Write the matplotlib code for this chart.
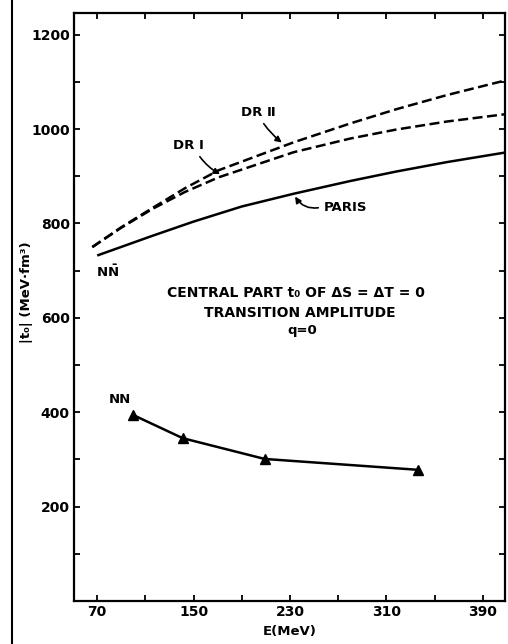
import matplotlib
matplotlib.use("Agg")
import matplotlib.pyplot as plt
from matplotlib.lines import Line2D

plt.rcParams['font.family'] = ['DejaVu Sans']
plt.rcParams['font.weight'] = 'bold'
plt.rcParams['mathtext.fontset'] = 'dejavusans'

# N-Nbar curves (E in MeV, |t0| in MeV fm^3)
e_dr = [66, 90, 116, 143, 171, 233, 280, 318, 360, 410]
dr2 = [750, 792, 833, 875, 913, 972, 1012, 1042, 1072, 1104]
dr1 = [750, 791, 831, 867, 898, 951, 980, 999, 1016, 1032]

e_paris = [71, 116, 150, 190, 233, 280, 318, 360, 410]
paris = [733, 774, 804, 836, 863, 890, 910, 930, 951]

# N-N points
e_nn = [100, 141, 209, 336]
nn = [394, 345, 301, 278]

x_major = [70, 150, 230, 310, 390]
x_minor = [110, 190, 270, 350]
y_major = [200, 400, 600, 800, 1000, 1200]
y_minor = [100, 300, 500, 700, 900, 1100]

fig = plt.figure(figsize=(5.08, 6.44), dpi=100)
ax = fig.add_axes([74/508, 43/644, 431/508, 588/644])

ax.plot(e_dr, dr2, color='black', lw=1.8, dashes=(4, 1.8))
ax.plot(e_dr, dr1, color='black', lw=1.8, dashes=(4, 1.8))
ax.plot(e_paris, paris, color='black', lw=1.8)
ax.plot(e_nn, nn, color='black', lw=1.8, marker='^', ms=7)

ax.set_xlim(50.8, 408.3)
ax.set_ylim(0, 1246)

ax.set_xticks(x_major)
ax.set_xticks(x_minor, minor=True)
ax.set_yticks(y_major)
ax.set_yticks(y_minor, minor=True)
ax.tick_params(which='both', direction='in', top=True, right=True,
               width=1.3, labelsize=10)
ax.tick_params(which='major', length=4.5, pad=3)
ax.tick_params(which='minor', length=4)
for lab in ax.get_xticklabels() + ax.get_yticklabels():
    lab.set_fontweight('bold')
for s in ax.spines.values():
    s.set_linewidth(1.6)

ax.set_xlabel('E(MeV)', fontsize=9.5, fontweight='bold', labelpad=4)
ax.set_ylabel('|t₀| (MeV·fm³)', fontsize=9.5, fontweight='bold')
ax.yaxis.set_label_coords(-0.094, 0.525)

arrow = dict(arrowstyle='-|>', color='black', lw=1.2, mutation_scale=9)
ax.annotate('DR Ⅱ', xy=(225, 968), xytext=(204, 1036), fontsize=9.5,
            fontweight='bold', ha='center', va='center',
            arrowprops=dict(arrow, connectionstyle='arc3,rad=0.1',
                            relpos=(0.55, 0.0)))
ax.annotate('DR Ⅰ', xy=(174, 902), xytext=(146, 966), fontsize=9.5,
            fontweight='bold', ha='center', va='center',
            arrowprops=dict(arrow, connectionstyle='arc3,rad=0.15',
                            relpos=(0.75, 0.0)))
ax.annotate('PARIS', xy=(233, 862), xytext=(258, 833), fontsize=9.5,
            fontweight='bold', ha='left', va='center',
            arrowprops=dict(arrow, connectionstyle='arc3,rad=-0.4',
                            relpos=(0.0, 0.6)))

ax.text(79, 697, r'$\mathbf{N}\bar{\mathbf{N}}$', fontsize=9.5,
        ha='center', va='center')
ax.text(89, 426, 'NN', fontsize=9.5, fontweight='bold',
        ha='center', va='center')

ax.text(235, 653, 'CENTRAL PART t₀ OF ΔS = ΔT = 0', fontsize=10,
        fontweight='bold', ha='center', va='center')
ax.text(238, 610, 'TRANSITION AMPLITUDE', fontsize=10,
        fontweight='bold', ha='center', va='center')
ax.text(240, 574, 'q=0', fontsize=9.5, fontweight='bold',
        ha='center', va='center')

# edge of the neighbouring panel in the scan
fig.add_artist(Line2D([12/508, 12/508], [0, 1], color='black', lw=1.5,
                      transform=fig.transFigure))

fig.savefig('out.png', dpi=100)
